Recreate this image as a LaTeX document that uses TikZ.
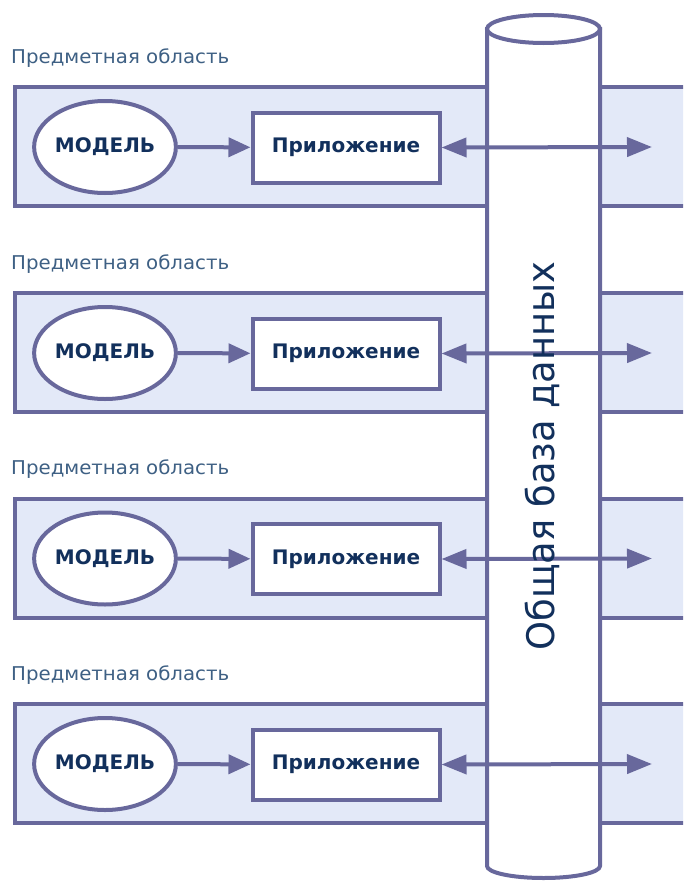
\documentclass[tikz,border=0pt]{standalone}
\usepackage{fontspec}
\setmainfont{DejaVu Sans}
\newfontfamily\areafont[FakeStretch=1.04]{DejaVu Sans}
\newfontfamily\dbfont[FakeStretch=0.97]{DejaVu Sans}
\usetikzlibrary{arrows.meta,positioning,shapes.geometric}
\definecolor{lila}{RGB}{104,104,156}
\definecolor{bandfill}{RGB}{227,233,248}
\definecolor{navy}{RGB}{18,48,92}
\definecolor{labelblue}{RGB}{62,96,132}
\tikzset{
  band/.style={draw=lila,fill=bandfill,line width=4pt},
  model/.style={ellipse,draw=lila,fill=white,line width=4pt,minimum width=134pt,minimum height=92pt,inner sep=0pt,font=\bfseries\fontsize{20}{24}\selectfont,text=navy},
  app/.style={rectangle,draw=lila,fill=white,line width=4pt,minimum width=187pt,minimum height=70pt,inner sep=0pt,font=\bfseries\fontsize{20}{24}\selectfont,text=navy},
  conn/.style={draw=lila,line width=4pt,-{Triangle[length=22pt,width=19pt]}},
  dconn/.style={draw=lila,line width=4pt,{Triangle[length=25pt,width=19pt]}-{Triangle[length=25pt,width=19pt]}},
  areatext/.style={anchor=west,inner sep=0pt,text=labelblue,font=\areafont\fontsize{19}{22}\selectfont},
}
\begin{document}
\begin{tikzpicture}[x=1pt,y=-1pt]
	\useasboundingbox (0,0) rectangle (683,881);
	\clip (0,0) rectangle (683,881);
	\fill[white] (0,0) rectangle (683,881);
	% bands
	\foreach \i/\dy in {1/0,2/206,3/411.5,4/617}{
		\draw[band] (15,87+\dy) rectangle (720,206+\dy);
		\node[areatext] (area\i) at (11,58+\dy) {Предметная область};
	}
	% shared database
	\draw[draw=lila,fill=white,line width=4pt] (487,29) -- (487,866) arc[start angle=180,end angle=0,x radius=56.5,y radius=12] -- (600,29) -- cycle;
	\draw[draw=lila,fill=white,line width=4pt] (543.5,29) ellipse [x radius=56.5,y radius=14];
	\foreach \i/\dy in {1/0,2/206,3/411.5,4/617}{
		\node[model] (model\i) at (105,147+\dy) {МОДЕЛЬ};
		\node[app] (app\i) at (346,147.5+\dy) {Приложение};
		\coordinate (db\i) at (652,147+\dy);
		\draw[conn] (model\i) -- (app\i);
		\draw[dconn] (app\i.east) -- (db\i);
	}
	\node[rotate=90,text=navy,font=\dbfont\fontsize{38}{44}\selectfont] (db) at (542,456) {Общая база данных};
\end{tikzpicture}
\end{document}
